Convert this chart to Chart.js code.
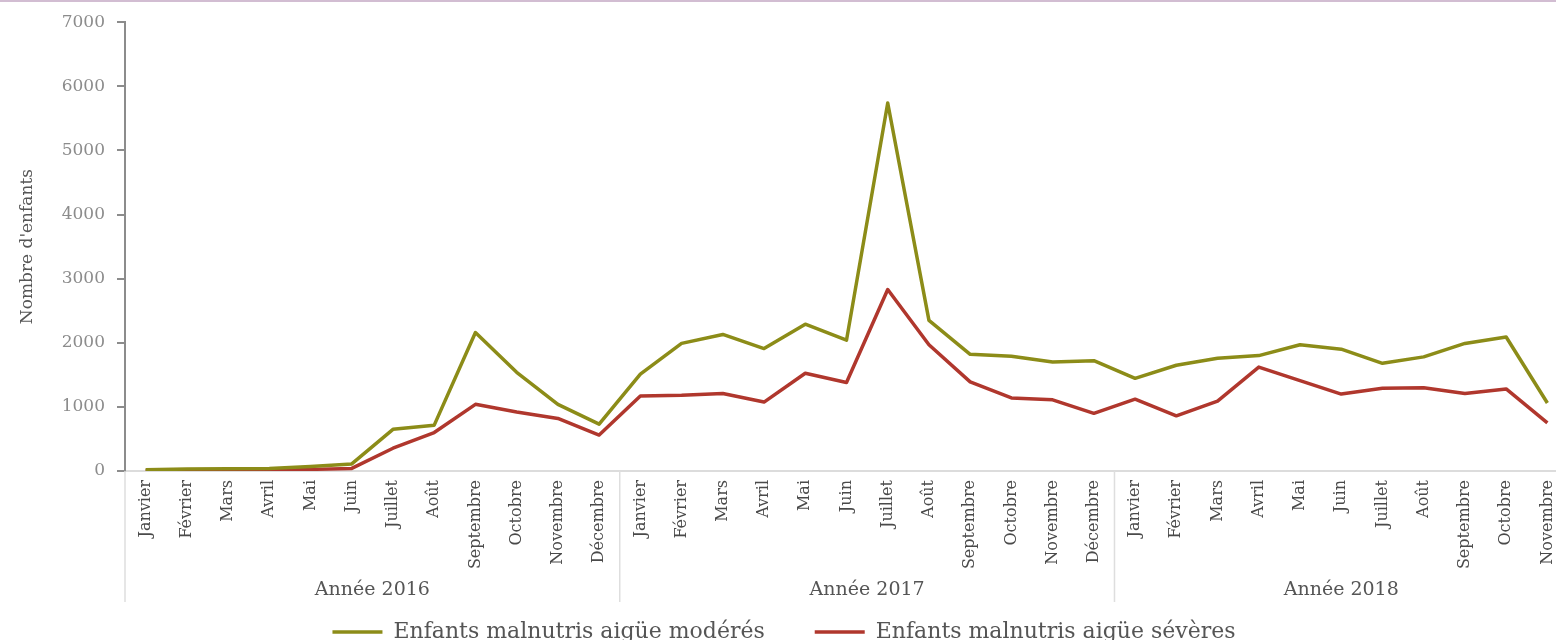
<!DOCTYPE html>
<html lang="fr">
<head>
<meta charset="utf-8">
<title>Enfants malnutris aigüe 2016–2018</title>
<script src="https://cdn.jsdelivr.net/npm/chart.js@4.4.1/dist/chart.umd.min.js"></script>
<style>
  html, body { margin: 0; padding: 0; background: #ffffff; overflow: hidden; }
  #wrap { position: absolute; left: 0; top: 0; width: 1556px; height: 640px; overflow: hidden; }
  #topRule { position: absolute; left: 0; top: 0; width: 1556px; height: 2px; background: #d2bdd2; z-index: 2; }
  canvas { position: absolute; left: 0; top: 0; }
</style>
</head>
<body>
<div id="wrap">
  <div id="topRule"></div>
  <canvas id="chart" width="1568" height="653" style="width:1568px;height:653px"></canvas>
</div>
<script>
// Mois par année (la dernière année s'arrête en novembre)
const mois2016 = ['Janvier', 'Février', 'Mars', 'Avril', 'Mai', 'Juin', 'Juillet', 'Août', 'Septembre', 'Octobre', 'Novembre', 'Décembre'];
const mois2017 = ['Janvier', 'Février', 'Mars', 'Avril', 'Mai', 'Juin', 'Juillet', 'Août', 'Septembre', 'Octobre', 'Novembre', 'Décembre'];
const mois2018 = ['Janvier', 'Février', 'Mars', 'Avril', 'Mai', 'Juin', 'Juillet', 'Août', 'Septembre', 'Octobre', 'Novembre'];
const annees = ['Année 2016', 'Année 2017', 'Année 2018'];

// Enfants malnutris aigüe modérés, par mois
const moderes2016 = [20, 30, 35, 40, 70, 110, 650, 715, 2160, 1540, 1040, 730];
const moderes2017 = [1510, 1990, 2130, 1910, 2290, 2040, 5740, 2350, 1820, 1790, 1700, 1720];
const moderes2018 = [1445, 1650, 1760, 1800, 1970, 1900, 1680, 1780, 1990, 2090, 1060];

// Enfants malnutris aigüe sévères, par mois
const severes2016 = [5, 10, 15, 20, 25, 40, 355, 600, 1040, 920, 820, 560];
const severes2017 = [1170, 1180, 1210, 1075, 1525, 1380, 2830, 1970, 1390, 1140, 1110, 900];
const severes2018 = [1120, 860, 1090, 1620, 1410, 1200, 1290, 1300, 1210, 1280, 750];

// Graduations de l'axe vertical
const yMin = 0, yMax = 7000, yPas = 1000;

const moisParAnnee = [mois2016, mois2017, mois2018];
const labels = [].concat(mois2016, mois2017, mois2018);
const moderes = [].concat(moderes2016, moderes2017, moderes2018);
const severes = [].concat(severes2016, severes2017, severes2018);

const SERIF = "'DejaVu Serif', 'Liberation Serif', serif";
const COUL_MODERES = '#8c8c18';
const COUL_SEVERES = '#b0372d';

// Second niveau de l'axe des catégories : séparateurs et noms d'année
const groupesAnnees = {
  id: 'groupesAnnees',
  afterDraw(chart) {
    const xs = chart.scales.x;
    const ctx = chart.ctx;
    const demi = (xs.getPixelForValue(1) - xs.getPixelForValue(0)) / 2;
    const haut = xs.top;
    const bas = xs.top + 131;
    let debut = 0;
    ctx.save();
    moisParAnnee.forEach((liste, i) => {
      const n = liste.length;
      const gauche = xs.getPixelForValue(debut) - demi;
      const droite = xs.getPixelForValue(debut + n - 1) + demi;
      ctx.strokeStyle = '#dedede';
      ctx.lineWidth = 1.5;
      ctx.beginPath();
      ctx.moveTo(gauche, haut);
      ctx.lineTo(gauche, bas);
      ctx.stroke();
      ctx.fillStyle = '#555555';
      ctx.font = '19px ' + SERIF;
      ctx.textAlign = 'center';
      ctx.textBaseline = 'middle';
      ctx.fillText(annees[i], (gauche + droite) / 2, xs.top + 119);
      debut += n;
    });
    ctx.restore();
  }
};

new Chart(document.getElementById('chart'), {
  type: 'line',
  data: {
    labels: labels,
    datasets: [
      {
        label: 'Enfants malnutris aigüe modérés',
        data: moderes,
        borderColor: COUL_MODERES,
        backgroundColor: COUL_MODERES,
        borderWidth: 3.5,
        pointRadius: 0,
        tension: 0,
        borderJoinStyle: 'round',
        fill: false
      },
      {
        label: 'Enfants malnutris aigüe sévères',
        data: severes,
        borderColor: COUL_SEVERES,
        backgroundColor: COUL_SEVERES,
        borderWidth: 3.5,
        pointRadius: 0,
        tension: 0,
        borderJoinStyle: 'round',
        fill: false
      }
    ]
  },
  options: {
    responsive: false,
    animation: false,
    devicePixelRatio: 1,
    layout: { padding: { top: 21, left: 0, right: 0, bottom: 0 } },
    plugins: {
      tooltip: { enabled: false },
      legend: {
        position: 'bottom',
        labels: {
          usePointStyle: true,
          pointStyle: 'line',
          pointStyleWidth: 50,
          boxHeight: 3,
          padding: 50,
          color: '#555555',
          font: { family: SERIF, size: 22 }
        }
      }
    },
    scales: {
      x: {
        type: 'category',
        offset: true,
        grid: { display: false },
        border: { display: true, color: '#dcdcdc', width: 2 },
        ticks: {
          autoSkip: false,
          minRotation: 90,
          maxRotation: 90,
          padding: 1,
          color: '#4a4a4a',
          font: { family: SERIF, size: 16 }
        },
        afterFit(scale) { scale.height = 100; }
      },
      y: {
        min: yMin,
        max: yMax,
        ticks: {
          stepSize: yPas,
          padding: 12,
          color: '#8c8c8c',
          font: { family: SERIF, size: 17 },
          callback: (v) => String(v)
        },
        grid: { display: true, drawOnChartArea: false, drawTicks: true, tickLength: 8, color: '#8c8c8c', lineWidth: 2 },
        border: { display: true, color: '#8c8c8c', width: 2 },
        title: {
          display: true,
          text: "Nombre d'enfants",
          color: '#555555',
          font: { family: SERIF, size: 17 },
          padding: { top: 17, bottom: 4 }
        },
        afterFit(scale) { scale.width = 125; }
      }
    }
  },
  plugins: [groupesAnnees]
});
</script>
</body>
</html>
